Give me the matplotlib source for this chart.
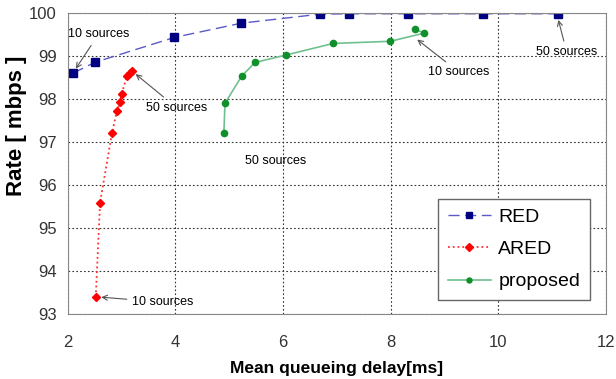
import matplotlib
matplotlib.use("Agg")
import matplotlib.pyplot as plt

# values
red_x = [2.1, 2.5, 3.98, 5.22, 6.68, 7.22, 8.32, 9.71, 11.1]
red_y = [98.6, 98.85, 99.43, 99.76, 99.97, 99.98, 99.98, 99.98, 99.98]
ared_x = [2.52, 2.6, 2.82, 2.91, 2.97, 3.0, 3.1, 3.15, 3.19]
ared_y = [93.4, 95.59, 97.2, 97.71, 97.92, 98.12, 98.53, 98.6, 98.64]
prop_x = [4.9, 4.92, 5.23, 5.48, 6.05, 6.93, 7.99, 8.62, 8.45]
prop_y = [97.22, 97.9, 98.53, 98.85, 99.02, 99.29, 99.34, 99.53, 99.62]

plt.rcParams['font.family'] = ['Liberation Sans', 'DejaVu Sans']
fig = plt.figure(figsize=(6.16, 3.79), dpi=100)
ax = fig.add_axes([0.110, 0.171, 0.874, 0.795])

ax.plot(red_x, red_y, linestyle=(0, (8, 4)), color="#5a5ac8", linewidth=1,
        marker="s", markersize=6, markerfacecolor="#000080", markeredgecolor="#000080", label="RED")
ax.plot(ared_x, ared_y, linestyle=":", color="#ff3030", linewidth=1.3,
        marker="D", markersize=4.5, markerfacecolor="#ff0000", markeredgecolor="#ff0000", label="ARED")
ax.plot(prop_x, prop_y, linestyle="-", color="#70c090", linewidth=1.2,
        marker="o", markersize=4.5, markerfacecolor="#10902a", markeredgecolor="#10902a", label="proposed")

ax.set_xlim(2, 12)
ax.set_ylim(93, 100)
ax.set_xticks([2, 4, 6, 8, 10, 12])
ax.set_yticks([93, 94, 95, 96, 97, 98, 99, 100])
ax.grid(True, linestyle=(0, (1.5, 2)), color="#333333", linewidth=0.8)
ax.tick_params(length=0, labelsize=12, colors="#333333")
ax.tick_params(axis="x", pad=15)
ax.tick_params(axis="y", pad=8)
for s in ax.spines.values():
    s.set_color("#888888")

ax.set_xlabel("Mean queueing delay[ms]", fontsize=12.5, fontweight="bold", labelpad=8)
ax.set_ylabel("Rate [ mbps ]", fontsize=16, fontweight="bold")
ax.yaxis.set_label_coords(-0.075, 0.625)

arr = dict(arrowstyle="->", color="#555555", lw=0.8)
fs = 9
ax.annotate("10 sources", xy=(2.12, 98.65), xytext=(2.0, 99.5), fontsize=fs,
            va="center", arrowprops=arr)
ax.annotate("50 sources", xy=(3.22, 98.62), xytext=(3.45, 97.8), fontsize=fs,
            va="center", arrowprops=arr)
ax.text(5.3, 96.55, "50 sources", fontsize=fs, va="center")
ax.annotate("10 sources", xy=(8.45, 99.42), xytext=(8.7, 98.62), fontsize=fs,
            va="center", arrowprops=arr)
ax.annotate("50 sources", xy=(11.1, 99.9), xytext=(10.7, 99.08), fontsize=fs,
            va="center", arrowprops=arr)
ax.annotate("10 sources", xy=(2.57, 93.4), xytext=(3.2, 93.28), fontsize=fs,
            va="center", arrowprops=arr)

leg = ax.legend(loc="lower right", bbox_to_anchor=(0.97, 0.047), fontsize=14, fancybox=False,
                framealpha=1, edgecolor="#666666", handlelength=2.2, borderpad=0.5,
                labelspacing=0.75, handletextpad=0.4, markerscale=0.8, borderaxespad=0)
leg.get_frame().set_linewidth(1)

fig.savefig("out.png", dpi=100)
